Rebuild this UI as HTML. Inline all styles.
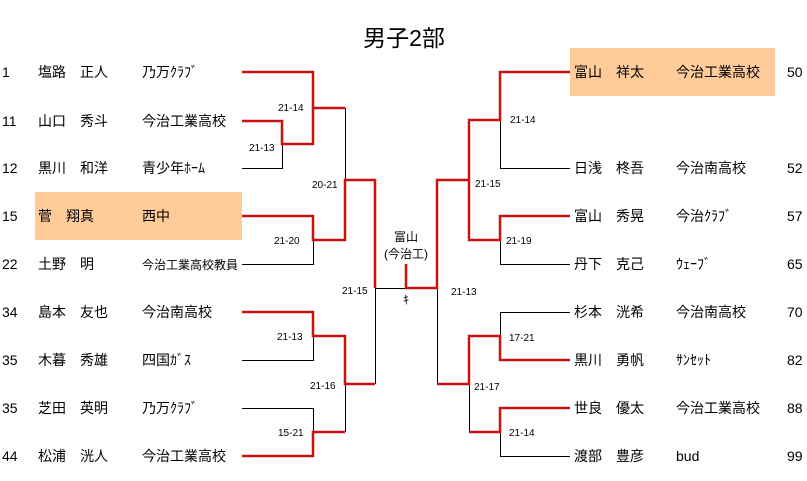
<!DOCTYPE html>
<html><head><meta charset="utf-8"><style>
body{margin:0;background:#fff;}
svg{display:block;font-family:"Liberation Sans","Noto Sans CJK JP",sans-serif;}
.t{font-size:14px;fill:#000;}
.s{font-size:10px;fill:#000;}
.r{stroke:#cc1111;stroke-width:2.5;fill:none;}
.b{stroke:#000;stroke-width:1;fill:none;}
</style></head><body>
<svg width="807" height="481" viewBox="0 0 807 481">
<rect x="35" y="192" width="207" height="48" fill="#ffcc99"/>
<rect x="570" y="48" width="205" height="48" fill="#ffcc99"/>
<text x="404" y="46" font-size="23" text-anchor="middle">男子2部</text>

<g class="t">
<text x="2" y="77">1</text><text x="38" y="77">塩路　正人</text><text x="142" y="77">乃万ｸﾗﾌﾞ</text>
<text x="2" y="126">11</text><text x="38" y="126">山口　秀斗</text><text x="142" y="126">今治工業高校</text>
<text x="2" y="173">12</text><text x="38" y="173">黒川　和洋</text><text x="142" y="173">青少年ﾎｰﾑ</text>
<text x="2" y="221">15</text><text x="38" y="221">菅　翔真</text><text x="142" y="221">西中</text>
<text x="2" y="269">22</text><text x="38" y="269">土野　明</text><text x="142" y="269" font-size="12">今治工業高校教員</text>
<text x="2" y="317">34</text><text x="38" y="317">島本　友也</text><text x="142" y="317">今治南高校</text>
<text x="2" y="365">35</text><text x="38" y="365">木暮　秀雄</text><text x="142" y="365">四国ｶﾞｽ</text>
<text x="2" y="413">35</text><text x="38" y="413">芝田　英明</text><text x="142" y="413">乃万ｸﾗﾌﾞ</text>
<text x="2" y="461">44</text><text x="38" y="461">松浦　洸人</text><text x="142" y="461">今治工業高校</text>

<text x="574" y="77">富山　祥太</text><text x="676" y="77">今治工業高校</text><text x="787" y="77">50</text>
<text x="574" y="173">日浅　柊吾</text><text x="676" y="173">今治南高校</text><text x="787" y="173">52</text>
<text x="574" y="221">富山　秀晃</text><text x="676" y="221">今治ｸﾗﾌﾞ</text><text x="787" y="221">57</text>
<text x="574" y="269">丹下　克己</text><text x="676" y="269">ｳｪｰﾌﾞ</text><text x="787" y="269">65</text>
<text x="574" y="317">杉本　洸希</text><text x="676" y="317">今治南高校</text><text x="787" y="317">70</text>
<text x="574" y="365">黒川　勇帆</text><text x="676" y="365">ｻﾝｾｯﾄ</text><text x="787" y="365">82</text>
<text x="574" y="413">世良　優太</text><text x="676" y="413">今治工業高校</text><text x="787" y="413">88</text>
<text x="574" y="461">渡部　豊彦</text><text x="676" y="461">bud</text><text x="787" y="461">99</text>
</g>

<g class="b">
<polyline points="242,168.5 282.5,168.5 282.5,144"/>
<polyline points="242,264.5 313.5,264.5 313.5,240"/>
<polyline points="345.5,108 345.5,180"/>
<polyline points="242,360.5 313.5,360.5 313.5,336"/>
<polyline points="242,408.5 313.5,408.5 313.5,432"/>
<polyline points="345.5,384 345.5,432"/>
<polyline points="375.5,288 375.5,384"/>
<line x1="375" y1="288.5" x2="437" y2="288.5"/>
<polyline points="570,168.5 500.5,168.5 500.5,120"/>
<polyline points="570,264.5 500.5,264.5 500.5,240"/>
<polyline points="570,312.5 500.5,312.5 500.5,336"/>
<polyline points="570,456.5 500.5,456.5 500.5,432"/>
<polyline points="469.5,384 469.5,432"/>
<polyline points="437.5,288 437.5,384"/>
</g>
<g class="r">
<polyline points="242,72 313,72 313,108 345,108"/>
<polyline points="242,121 282,121 282,144 313,144 313,108"/>
<polyline points="242,216 313,216 313,240 345,240 345,180 375,180 375,288"/>
<polyline points="242,312 313,312 313,336 345,336 345,384 375,384"/>
<polyline points="242,456 313,456 313,432 345,432"/>
<polyline points="406,264 406,288 437,288 437,180 469,180"/>
<polyline points="570,72 500,72 500,120 469,120 469,240 500,240 500,216 570,216"/>
<polyline points="437,384 469,384 469,336 500,336 500,360 570,360"/>
<polyline points="469,432 500,432 500,408 570,408"/>
</g>

<g class="s">
<text x="278" y="111">21-14</text>
<text x="249" y="151">21-13</text>
<text x="312" y="188">20-21</text>
<text x="274" y="244">21-20</text>
<text x="342" y="294">21-15</text>
<text x="277" y="340">21-13</text>
<text x="310" y="389">21-16</text>
<text x="278" y="436">15-21</text>
<text x="510" y="123">21-14</text>
<text x="475" y="187">21-15</text>
<text x="506" y="244">21-19</text>
<text x="451" y="295">21-13</text>
<text x="509" y="341">17-21</text>
<text x="474" y="390">21-17</text>
<text x="509" y="436">21-14</text>
</g>
<text x="406" y="241" font-size="12" text-anchor="middle">富山</text>
<text x="406" y="258" font-size="12" text-anchor="middle">(今治工)</text>
<text x="406" y="304" font-size="12" text-anchor="middle">ｷ</text>
</svg>
</body></html>
